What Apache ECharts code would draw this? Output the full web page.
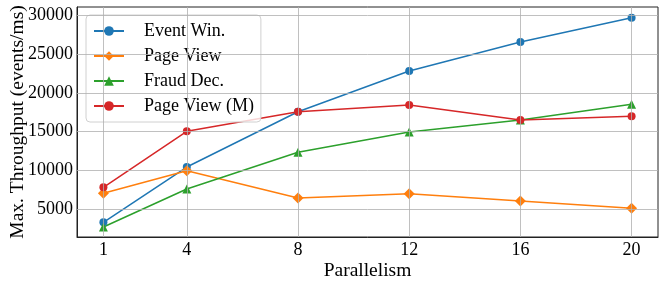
<!DOCTYPE html>
<html>
<head>
<meta charset="utf-8">
<script src="https://cdn.jsdelivr.net/npm/echarts@6/dist/echarts.min.js"></script>
<style>html,body{margin:0;padding:0;background:#fff}#c{width:664px;height:286px}</style>
</head>
<body>
<div id="c"></div>
<script>
const parallelism = [1, 4, 8, 12, 16, 20];
const xTicks = [1, 4, 8, 12, 16, 20];
const yTicks = [5000, 10000, 15000, 20000, 25000, 30000];
const eventWin = [3280, 10430, 17580, 22840, 26590, 29740];
const pageView = [7030, 9950, 6420, 6980, 6040, 5090];
const fraudDec = [2670, 7590, 12330, 14960, 16510, 18540];
const pageViewM = [7800, 15050, 17580, 18450, 16510, 16990];

const FONT = '"Liberation Serif", "DejaVu Serif", serif';
const pair = arr => parallelism.map((x, i) => [x, arr[i]]);

function mk(name, data, color, symbol, size) {
  return {
    name, type: 'line', data: pair(data), symbol, symbolSize: size,
    lineStyle: { color, width: 1.5 }, itemStyle: { color },
    showSymbol: true, animation: false, z: 3
  };
}

const gridLines = [
  ...xTicks.map(v => ({ xAxis: v })),
  ...yTicks.map(v => ({ yAxis: v }))
];

const chart = echarts.init(document.getElementById('c'), null, { renderer: 'canvas' });
chart.setOption({
  animation: false,
  grid: { left: 77, right: 6, top: 7, bottom: 49, containLabel: false, outerBoundsMode: 'none', show: true, borderColor: '#222', borderWidth: 1, backgroundColor: 'transparent' },
  xAxis: {
    type: 'value', min: 0.05, max: 20.95,
    name: 'Parallelism', nameLocation: 'middle', nameGap: 24, nameMoveOverlap: false,
    nameTextStyle: { fontFamily: FONT, fontSize: 19.5, color: '#000' },
    axisLine: { show: true, onZero: false, lineStyle: { color: '#222', width: 1 } },
    axisTick: { show: false, customValues: xTicks },
    axisLabel: { customValues: xTicks, formatter: v => String(v), fontFamily: FONT, fontSize: 18, color: '#000', margin: 4 },
    splitLine: { show: false }
  },
  yAxis: {
    type: 'value', min: 1380, max: 31125,
    name: 'Max. Throughput (events/ms)', nameLocation: 'middle', nameGap: 49, nameMoveOverlap: false,
    nameTextStyle: { fontFamily: FONT, fontSize: 19.5, color: '#000' },
    axisLine: { show: true, onZero: false, lineStyle: { color: '#222', width: 1 } },
    axisTick: { show: false, customValues: yTicks },
    axisLabel: { customValues: yTicks, formatter: v => String(v), fontFamily: FONT, fontSize: 18, color: '#000', margin: 4 },
    splitLine: { show: false }
  },
  legend: {
    left: 86, top: 15, orient: 'vertical',
    itemWidth: 30, itemHeight: 12, itemGap: 7,
    padding: [7, 7, 7, 7],
    backgroundColor: 'rgba(255,255,255,0.8)',
    borderColor: '#d0d0d0', borderWidth: 1, borderRadius: 4,
    textStyle: { fontFamily: FONT, fontSize: 18, color: '#000', lineHeight: 18, padding: [0, 0, 0, 15] },
    data: ['Event Win.', 'Page View', 'Fraud Dec.', 'Page View (M)']
  },
  series: [
    {
      name: '_grid', type: 'line', data: [], z: 1, silent: true,
      markLine: {
        silent: true, symbol: ['none', 'none'], label: { show: false },
        lineStyle: { color: '#b0b0b0', width: 0.8, type: 'solid' },
        emphasis: { disabled: true },
        data: gridLines, animation: false
      }
    },
    mk('Event Win.', eventWin, '#1f77b4', 'circle', 8),
    mk('Page View', pageView, '#ff7f0e', 'diamond', 11),
    mk('Fraud Dec.', fraudDec, '#2ca02c', 'triangle', 9),
    mk('Page View (M)', pageViewM, '#d62728', 'circle', 8)
  ]
});
</script>
</body>
</html>
